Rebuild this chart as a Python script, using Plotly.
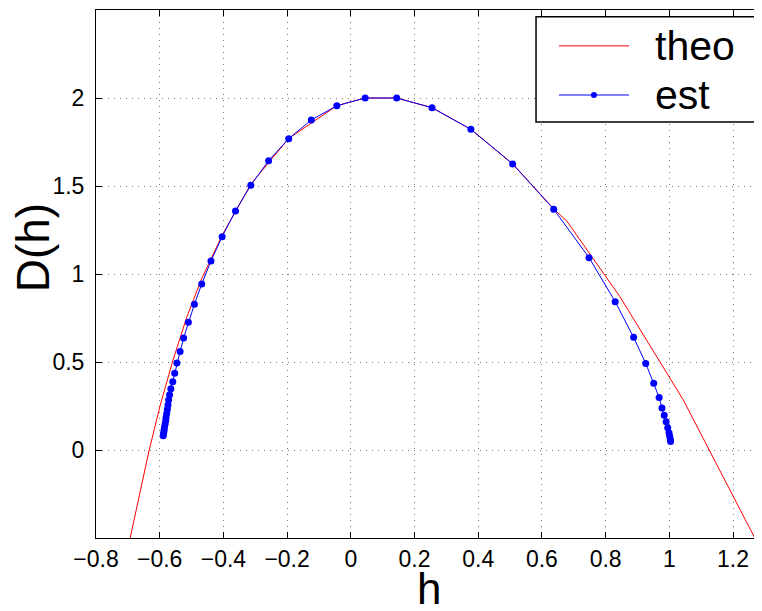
import plotly.graph_objects as go

# theoretical spectrum
theo_h = [-0.693, -0.633, -0.599, -0.560, -0.516, -0.470, -0.404, -0.314, -0.195, -0.044,
          0.045, 0.144, 0.255, 0.377, 0.509, 0.637, 0.678, 0.845, 1.044, 1.269]
theo_D = [-0.502, 0.0, 0.25, 0.5, 0.75, 0.966, 1.22, 1.51, 1.77, 1.956,
          2.0, 2.0, 1.945, 1.822, 1.625, 1.37, 1.301, 0.871, 0.284, -0.502]

# estimated spectrum
est_h = [-0.589, -0.588, -0.587, -0.586, -0.585, -0.583, -0.581, -0.580, -0.578,
         -0.576, -0.574, -0.572, -0.569, -0.565, -0.559, -0.553, -0.546, -0.536,
         -0.525, -0.510, -0.491, -0.468, -0.439, -0.404, -0.362, -0.314, -0.258,
         -0.195, -0.124, -0.044, 0.045, 0.144, 0.255, 0.377, 0.508, 0.637, 0.748,
         0.830, 0.888, 0.926, 0.951, 0.968, 0.977, 0.984, 0.990, 0.995, 0.999,
         1.001, 1.003, 1.004]
est_D = [0.081, 0.091, 0.102, 0.115, 0.131, 0.148, 0.167, 0.186, 0.208,
         0.231, 0.256, 0.284, 0.314, 0.348, 0.388, 0.436, 0.494, 0.559,
         0.636, 0.726, 0.828, 0.943, 1.074, 1.212, 1.358, 1.504, 1.644,
         1.769, 1.875, 1.956, 2.0, 2.0, 1.945, 1.822, 1.625, 1.368, 1.093,
         0.843, 0.640, 0.492, 0.379, 0.299, 0.239, 0.197, 0.161, 0.127, 0.098,
         0.080, 0.063, 0.049]

x_ticks = [-0.8, -0.6, -0.4, -0.2, 0, 0.2, 0.4, 0.6, 0.8, 1, 1.2]
y_ticks = [0, 0.5, 1, 1.5, 2]

font = "Liberation Sans, Arial, sans-serif"

fig = go.Figure()
fig.add_trace(go.Scatter(x=theo_h, y=theo_D, mode="lines", name="theo",
                         line=dict(color="#ff0000", width=1)))
fig.add_trace(go.Scatter(x=est_h, y=est_D, mode="lines+markers", name="est",
                         line=dict(color="#0000ff", width=1),
                         marker=dict(color="#0000ff", size=7)))

axis_common = dict(showline=True, linecolor="black", linewidth=1,
                   ticks="inside", ticklen=6, tickcolor="black",
                   showgrid=True, gridcolor="#777", griddash="1px,5px", gridwidth=1,
                   zeroline=False, tickfont=dict(size=23, color="black", family=font))

fig.update_xaxes(range=[-0.8, 1.291], tickvals=x_ticks, mirror="ticks",
                 ticklabelstandoff=0, **axis_common)
fig.update_yaxes(range=[-0.5, 2.5], tickvals=y_ticks, mirror=False,
                 ticklabelstandoff=6, **axis_common)

# axis labels
fig.add_annotation(text="h", xref="paper", yref="paper", x=0.5, y=-0.046,
                   xanchor="center", yanchor="top", showarrow=False,
                   font=dict(size=44, color="black", family=font))
fig.add_annotation(text="D(h)", xref="paper", yref="paper", x=-0.095, y=0.55,
                   xanchor="center", yanchor="middle", textangle=-90, showarrow=False,
                   font=dict(size=46, color="black", family=font))

# legend box drawn MATLAB-style
lg_font = dict(size=41, color="black", family=font)
fig.add_shape(type="rect", xref="paper", yref="paper", x0=0.6607, x1=0.994,
              y0=0.788, y1=0.987, line=dict(color="black", width=1.5),
              fillcolor="white", layer="above")
fig.add_shape(type="line", xref="paper", yref="paper", x0=0.6952, x1=0.8003,
              y0=0.932, y1=0.932, line=dict(color="#ff0000", width=1), layer="above")
fig.add_shape(type="line", xref="paper", yref="paper", x0=0.6952, x1=0.8003,
              y0=0.839, y1=0.839, line=dict(color="#0000ff", width=1), layer="above")
fig.add_shape(type="circle", xref="paper", yref="paper", xsizemode="pixel",
              ysizemode="pixel", xanchor=0.7477, yanchor=0.839, x0=-3, x1=3, y0=-3, y1=3,
              fillcolor="#0000ff", line=dict(color="#0000ff", width=0), layer="above")
fig.add_annotation(text="theo", xref="paper", yref="paper", x=0.8363, y=0.932,
                   xanchor="left", yanchor="middle", showarrow=False, font=lg_font)
fig.add_annotation(text="est", xref="paper", yref="paper", x=0.8363, y=0.839,
                   xanchor="left", yanchor="middle", showarrow=False, font=lg_font)

# page body has an 8px margin, so the figure is 8px smaller and shifted accordingly
fig.update_layout(
    width=754, height=603,
    margin=dict(l=88, r=0, t=2, b=73, autoexpand=False),
    plot_bgcolor="white", paper_bgcolor="white",
    font=dict(family=font, color="black"),
    showlegend=False,
)

fig.write_html("out.html")
